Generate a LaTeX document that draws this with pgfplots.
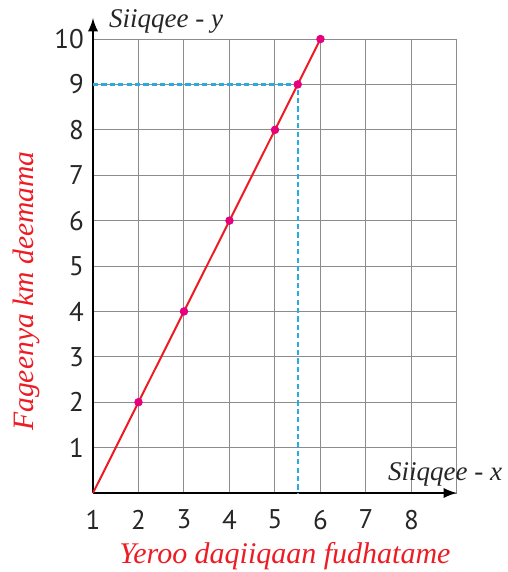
\documentclass[border=0pt]{standalone}
\usepackage{fontspec}
\setmainfont{Liberation Serif}
\newfontfamily\tickfont{PT Sans}
\usepackage{pgfplots}
\pgfplotsset{compat=1.18}
\definecolor{lred}{HTML}{ED1C24}
\definecolor{mag}{HTML}{E5007D}
\definecolor{cyanb}{HTML}{29ABE2}
\definecolor{gridg}{HTML}{8C8C8C}
\begin{document}
\begin{tikzpicture}
\begin{axis}[
  scale only axis,
  width=182pt, height=227pt,
  xmin=1, xmax=9, ymin=0, ymax=10,
  axis lines=left,
  axis line style={line width=1.3pt, black, -latex},
  y axis line style={shorten >=-10.5pt},
  xtick={1,2,3,4,5,6,7,8,9},
  xticklabels={1,2,3,4,5,6,7,8,{}},
  ytick={0,1,2,3,4,5,6,7,8,9,10},
  yticklabels={{},1,2,3,4,5,6,7,8,9,10},
  major tick length=0pt,
  grid=major,
  grid style={gridg, line width=0.5pt},
  ticklabel style={font=\tickfont\fontsize{13.5}{15}\selectfont, text=black!85},
  xticklabel style={yshift=-5pt},
  yticklabel style={xshift=-1pt},
  clip=false,
]
\addplot[cyanb, line width=1.2pt, dash pattern=on 2.6pt off 1.6pt] coordinates {(1,9) (5.5,9) (5.5,0)};
\addplot[lred, line width=1pt] coordinates {(1,0) (6,10)};
\addplot[only marks, mark=*, mark size=1.9pt, mag, mark options={draw=mag, fill=mag}] coordinates {(2,2) (3,4) (4,6) (5,8) (5.5,9) (6,10)};
\node[anchor=base west, font=\itshape\fontsize{13.5}{15}\selectfont, text=black!85] at (axis cs:1.2,10.26) {Siiqqee - y};
\node[anchor=base west, font=\itshape\fontsize{13.5}{15}\selectfont, text=black!85] at (axis cs:7.33,0.27) {Siiqqee - x};
\node[anchor=center, font=\itshape\fontsize{15}{17}\selectfont, text=lred] at (axis cs:5.22,-1.4) {Yeroo daqiiqaan fudhatame};
\node[anchor=center, rotate=90, font=\itshape\fontsize{14.8}{16}\selectfont, text=lred] at (axis cs:-0.47,4.45) {Fageenya km deemama};
\coordinate (bbl) at (axis cs:-1.044,-1.74);
\coordinate (btr) at (axis cs:10.12,10.86);
\end{axis}
\pgfresetboundingbox
\path (bbl) rectangle (btr);
\end{tikzpicture}
\end{document}
